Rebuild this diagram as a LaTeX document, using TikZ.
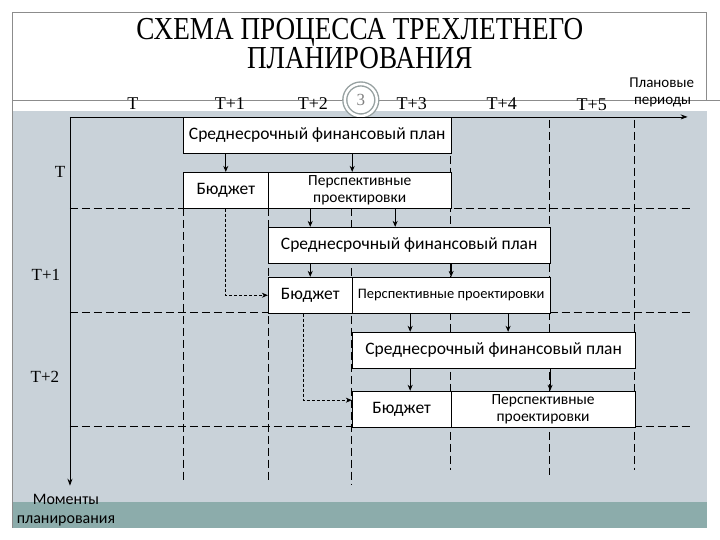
\documentclass[tikz,border=0pt]{standalone}
\usepackage{fontspec}
\setmainfont{Liberation Serif}
\newfontfamily\carlito{Carlito}
\usetikzlibrary{positioning,arrows.meta}

\definecolor{slidegray}{RGB}{201,210,217}
\definecolor{slideteal}{RGB}{140,172,171}
\definecolor{framegray}{RGB}{140,140,140}
\definecolor{ringgray}{RGB}{150,160,160}

\begin{document}
\begin{tikzpicture}[
        x=1pt, y=-1pt,
        every node/.style={inner sep=0pt},
        titletext/.style={font=\fontsize{32}{34}\selectfont, anchor=base, xscale=0.85},
        periodlbl/.style={font=\fontsize{18}{20}\selectfont},
        rowlbl/.style={font=\fontsize{17}{19}\selectfont},
        sidelbl/.style={font=\carlito\fontsize{15}{17}\selectfont},
        planbox/.style={draw, fill=white, line width=0.8pt, anchor=north west, minimum height=36pt, font=\carlito\fontsize{17.5}{19}\selectfont},
        budgetbox/.style={planbox},
        prospbox/.style={planbox, align=center, font=\carlito\fontsize{15.5}{17}\selectfont},
        arrow/.style={-{Stealth[length=6pt,width=5pt]}, line width=0.9pt},
        dasharrow/.style={-{Stealth[length=6pt,width=5pt]}, line width=0.7pt, dash pattern=on 3pt off 2pt},
        gridline/.style={line width=0.7pt, dash pattern=on 8pt off 4pt},
        axis/.style={-{Stealth[length=7pt,width=5pt]}, line width=0.8pt}
    ]
        % Slide background
        \fill[white] (0,0) rectangle (720,540);
        \fill[slidegray] (12.7,111) rectangle (707,502);
        \fill[slideteal] (12.7,502) rectangle (707,528);
        \draw[framegray, line width=0.8pt] (12.7,528) -- (12.7,12.7) -- (707,12.7) -- (707,100);
        \draw[framegray, line width=0.8pt] (12.7,100) -- (720,100);

        % Title
        \node[titletext] (title1) at (360,40) {СХЕМА ПРОЦЕССА ТРЕХЛЕТНЕГО};
        \node[titletext] (title2) at (360,69) {ПЛАНИРОВАНИЯ};

        % Slide number
        \node[circle, draw=ringgray, double=white, double distance=2.5pt, line width=1.4pt, fill=white, minimum size=32pt, font=\fontsize{17}{18}\selectfont\color{gray}] (num) at (361,100) {3};

        % Planning periods
        \node[periodlbl] (pT) at (133,104) {T};
        \node[periodlbl] (pT1) at (230,104) {T+1};
        \node[periodlbl] (pT2) at (313,104) {T+2};
        \node[periodlbl] (pT3) at (412,104) {T+3};
        \node[periodlbl] (pT4) at (502,104) {T+4};
        \node[periodlbl] (pT5) at (592,105) {T+5};
        \node[sidelbl] (plan1) at (662,83) {Плановые};
        \node[sidelbl] (plan2) at (663,102) {периоды};

        % Axes
        \coordinate (origin) at (70,117);
        \coordinate (xend) at (688,117);
        \coordinate (yend) at (70,486);
        \draw[axis] (origin) -- (xend);
        \draw[axis] (origin) -- (yend);
        \node[sidelbl, font=\carlito\fontsize{16}{18}\selectfont] (mom1) at (66,500) {Моменты};
        \node[sidelbl, font=\carlito\fontsize{16}{18}\selectfont] (mom2) at (66,521) {планирования};

        % Planning moments
        \node[rowlbl] (rT) at (60,172) {T};
        \node[rowlbl] (rT1) at (46,275) {T+1};
        \node[rowlbl] (rT2) at (45,377) {T+2};

        % Dashed grid
        \foreach \x/\ya/\yb in {183/208/482, 268/208/482, 352/208/485, 451/120/470, 550/120/475, 635/120/470}
            \draw[gridline] (\x,\ya) -- (\x,\yb);
        \foreach \y in {208, 313, 427}
            \draw[gridline] (70,\y) -- (693,\y);

        % Year T
        \node[planbox, minimum width=268pt] (a1) at (183,117) {Среднесрочный финансовый план};
        \node[budgetbox, minimum width=85pt] (b1) at (183,172) {Бюджет};
        \node[prospbox, minimum width=183pt] (p1) at (268,172) {Перспективные\\проектировки};

        % Year T+1
        \node[planbox, minimum width=282pt] (a2) at (268,227) {Среднесрочный финансовый план};
        \node[budgetbox, minimum width=84pt] (b2) at (268,277) {Бюджет};
        \node[prospbox, minimum width=198pt, font=\carlito\fontsize{14.5}{16}\selectfont] (p2) at (352,277) {Перспективные проектировки};

        % Year T+2
        \node[planbox, minimum width=283pt] (a3) at (352,332) {Среднесрочный финансовый план};
        \node[budgetbox, minimum width=99pt] (b3) at (352,391) {Бюджет};
        \node[prospbox, minimum width=184pt] (p3) at (451,391) {Перспективные\\проектировки};

        % Plan to budget and prospects
        \draw[arrow] (a1.south -| b1.north) -- (b1.north);
        \draw[arrow] ([xshift=-7.5pt]a1.south -| p1.north) -- ([xshift=-7.5pt]p1.north);
        \draw[arrow] (a2.south -| b2.north) -- (b2.north);
        \draw[arrow] (a2.south -| p2.north) -- (p2.north);
        \draw[arrow] ([xshift=8.5pt]a3.south -| b3.north) -- ([xshift=8.5pt]b3.north);
        \draw[arrow] ([xshift=7pt]a3.south -| p3.north) -- ([xshift=7pt]p3.north);

        % Prospects to next plan
        \draw[arrow] (p1.south -| b2.north) -- (a2.north -| b2.north);
        \draw[arrow] ([xshift=35.5pt]p1.south) -- ([xshift=35.5pt]p1.south |- a2.north);
        \draw[arrow] ([xshift=8.5pt]p2.south -| b3.north) -- ([xshift=8.5pt]a3.north -| b3.north);
        \draw[arrow] ([xshift=57pt]p2.south) -- ([xshift=57pt]p2.south |- a3.north);

        % Budget carried over
        \draw[dasharrow] (b1.south) |- (b2.west);
        \draw[dasharrow] ([xshift=-7pt]b2.south) |- ([yshift=9pt]b3.west);
    \end{tikzpicture}
\end{document}
